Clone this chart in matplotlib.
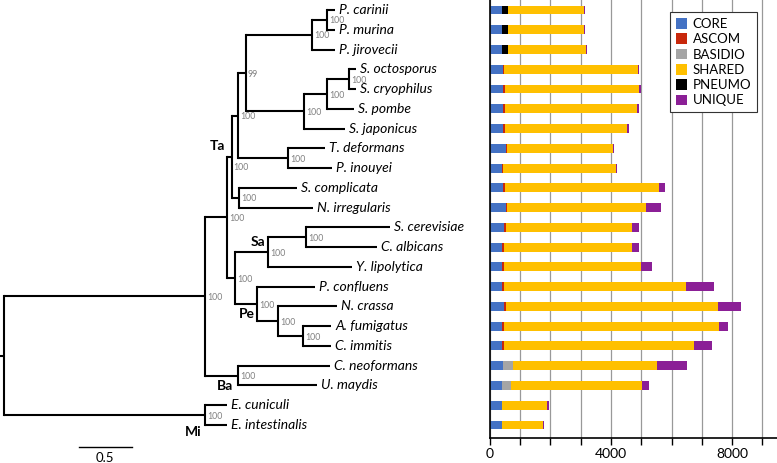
import numpy as np
import matplotlib.pyplot as plt
from matplotlib.patches import Patch

plt.rcParams['font.family'] = ['Lato', 'DejaVu Sans']

# species, top to bottom (same order as tree tips)
species = ["P. carinii", "P. murina", "P. jirovecii", "S. octosporus", "S. cryophilus",
           "S. pombe", "S. japonicus", "T. deformans", "P. inouyei", "S. complicata",
           "N. irregularis", "S. cerevisiae", "C. albicans", "Y. lipolytica", "P. confluens",
           "N. crassa", "A. fumigatus", "C. immitis", "C. neoformans", "U. maydis",
           "E. cuniculi", "E. intestinalis"]

# gene counts per category
core    = [400, 400, 390, 430, 450, 450, 450, 540, 400, 450, 530, 480, 400, 400, 400, 480, 400, 400, 430, 400, 400, 400]
ascom   = [0, 0, 30, 50, 40, 40, 50, 30, 40, 40, 30, 45, 60, 60, 60, 55, 60, 60, 0, 0, 0, 0]
basidio = [0, 0, 0, 0, 0, 0, 0, 0, 0, 0, 0, 0, 0, 0, 0, 0, 0, 0, 350, 315, 0, 0]
pneumo  = [195, 195, 175, 0, 0, 0, 0, 0, 0, 0, 0, 0, 0, 0, 0, 0, 0, 0, 0, 0, 0, 0]
shared  = [2520, 2520, 2586, 4425, 4427, 4383, 4043, 3489, 3740, 5108, 4588, 4183, 4248,
           4544, 6009, 7011, 7108, 6284, 4752, 4300, 1480, 1360]
unique  = [35, 35, 40, 15, 75, 45, 55, 35, 10, 200, 505, 210, 220, 350, 945, 740, 287, 593, 970, 253, 77, 44]

categories = ["CORE", "ASCOM", "BASIDIO", "SHARED", "PNEUMO", "UNIQUE"]
colors = {"CORE": "#4472C4", "ASCOM": "#C8280C", "BASIDIO": "#A5A5A5",
          "SHARED": "#FFC000", "PNEUMO": "#000000", "UNIQUE": "#8B1F96"}


# tree: branch lengths (scale bar = 0.5) and bootstrap supports
def node(length, support, *kids, clade=None, sdy=0):
    return {"len": length, "sup": support, "kids": list(kids), "clade": clade, "sdy": sdy}

def tip(name, length):
    return {"len": length, "name": name}

tree = node(0.041, None,
    node(1.906, 100,
        node(0.206, 100,
            node(0.046, 100,
                node(0.059, 100,
                    node(0.076, 99,
                        node(0.627, 100,
                            node(0.142, 100, tip("P. carinii", 0.079), tip("P. murina", 0.079)),
                            tip("P. jirovecii", 0.221)),
                        node(0.554, 100,
                            node(0.216, 100,
                                node(0.215, 100, tip("S. octosporus", 0.063), tip("S. cryophilus", 0.063)),
                                tip("S. pombe", 0.26)),
                            tip("S. japonicus", 0.39))),
                    node(0.48, 100, tip("T. deformans", 0.349), tip("P. inouyei", 0.412))),
                node(0.071, 100, tip("S. complicata", 0.548), tip("N. irregularis", 0.703)),
                clade="Ta", sdy=10),
            node(0.079, 100,
                node(0.316, 100,
                    node(0.358, 100, tip("S. cerevisiae", 0.798), tip("C. albicans", 0.671)),
                    tip("Y. lipolytica", 0.792), clade="Sa"),
                node(0.206, 100,
                    tip("P. confluens", 0.554),
                    node(0.205, 100,
                        tip("N. crassa", 0.555),
                        node(0.232, 100, tip("A. fumigatus", 0.269), tip("C. immitis", 0.269))),
                    clade="Pe"))),
        node(0.31, 100, tip("C. neoformans", 0.877), tip("U. maydis", 0.75), clade="Ba")),
    node(1.906, 100, tip("E. cuniculi", 0.206), tip("E. intestinalis", 0.206), clade="Mi"))

# clade label offsets (points)
clade_off = {"Ta": (-4.7, 7.9), "Sa": (-2.2, 7.2), "Pe": (-1.4, -7.2),
             "Ba": (-3.6, -7.2), "Mi": (-2.2, -12.2)}

hsegs, vsegs, nodes = [], [], []

def layout(n, x0):
    x = x0 + n["len"]
    if "name" in n:
        y = species.index(n["name"])
    else:
        ys = [layout(k, x) for k in n["kids"]]
        y = (ys[0] + ys[-1]) / 2.
        vsegs.append(([x, x], [ys[0], ys[-1]]))
    hsegs.append(([x0, x], [y, y]))
    n["x"], n["y"] = x, y
    nodes.append(n)
    return y

layout(tree, 0.)

W, H = 777, 463
px_unit = 105.3   # pixels per branch-length unit
row_px = 19.76
y0_px = 10.
x_bar = 489.7
bot_px = 438.3

fig = plt.figure(figsize=(W / 100, H / 100), dpi=100)

# ---- tree
ax = fig.add_axes([0, 0, x_bar / W, 1])
ax.set_xlim(0, x_bar / px_unit)
ax.set_ylim((H - y0_px) / row_px, -y0_px / row_px)
ax.axis('off')

for xs, ys in hsegs:
    ax.plot(xs, ys, color='black', lw=1.5, solid_capstyle='butt')
for xs, ys in vsegs:
    ax.plot(xs, ys, color='black', lw=1.5, solid_capstyle='projecting')

for n in nodes:
    if "name" in n:
        ax.annotate(n["name"], (n["x"], n["y"]), xytext=(3, 0), textcoords='offset points',
                    va='center', ha='left', fontsize=10, style='italic')
    else:
        if n["sup"] is not None:
            ax.annotate(str(n["sup"]), (n["x"], n["y"]), xytext=(1.5, -0.8 - n["sdy"] * 0.72),
                        textcoords='offset points', va='center', ha='left', fontsize=6.3,
                        color='#808080')
        if n["clade"]:
            ax.annotate(n["clade"], (n["x"], n["y"]), xytext=clade_off[n["clade"]],
                        textcoords='offset points', va='center', ha='right', fontsize=10,
                        fontweight='bold')

# scale bar
sb_y = (447 - y0_px) / row_px
ax.plot([0.75, 1.25], [sb_y, sb_y], color='black', lw=1.0)
ax.text(1.0, (458 - y0_px) / row_px, "0.5", ha='center', va='center', fontsize=9.5)

# ---- stacked bars
ax2 = fig.add_axes([x_bar / W, (H - bot_px) / H, 1 - x_bar / W, bot_px / H])
rows = np.arange(len(species))
stack = [("CORE", core), ("ASCOM", ascom), ("BASIDIO", basidio), ("PNEUMO", pneumo),
         ("SHARED", shared), ("UNIQUE", unique)]
left = np.zeros(len(species))
for name, vals in stack:
    vals = np.array(vals, dtype=float)
    ax2.barh(rows, vals, left=left, height=0.45, color=colors[name], linewidth=0)
    left += vals

ax2.set_xlim(0, 9480)
ax2.set_ylim(-y0_px / row_px + bot_px / row_px, -y0_px / row_px)
ax2.set_yticks([])
ax2.set_xticks([0, 4000, 8000])
ax2.set_xticks(np.arange(1000, 10000, 1000), minor=True)
ax2.tick_params(axis='x', which='both', length=5, width=1, direction='out', pad=2,
                labelsize=10)
ax2.set_axisbelow(True)
ax2.grid(which='both', axis='x', color='#999999', lw=0.9)
for s in ['top', 'right']:
    ax2.spines[s].set_visible(False)
for s in ['left', 'bottom']:
    ax2.spines[s].set_linewidth(1.2)

handles = [Patch(facecolor=colors[c], edgecolor='none', label=c) for c in categories]
leg = ax2.legend(handles=handles, loc='upper right', bbox_to_anchor=(0.9314, 0.9726),
                 borderaxespad=0, fontsize=9.5, frameon=True, fancybox=False, framealpha=1,
                 handlelength=0.85, handleheight=0.85, labelspacing=0.25, handletextpad=0.45,
                 borderpad=0.45)
leg.get_frame().set_edgecolor('#333333')
leg.get_frame().set_linewidth(0.8)

fig.savefig('out.png', dpi=100)
